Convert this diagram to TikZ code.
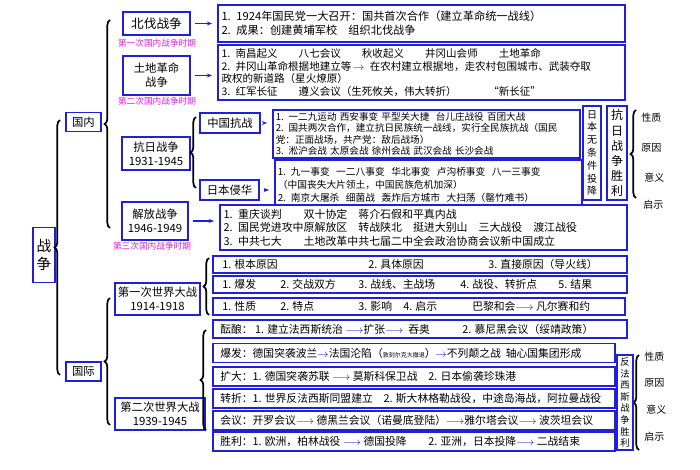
\documentclass[tikz,border=0pt]{standalone}
\usepackage{fontspec}
\setmainfont{Noto Sans CJK SC}
\usetikzlibrary{decorations.pathreplacing,arrows.meta}
\definecolor{bc}{HTML}{2020D8}
\definecolor{pk}{HTML}{E020E0}
\newcommand\blarr{\textcolor{bc}{$\rightarrow$}}
\newcommand\bllarr{\textcolor{bc}{$\longrightarrow$}}
\newcommand\fz[2]{\fontsize{#1pt}{#2pt}\selectfont}
\tikzset{
  tbox/.style={draw=bc,line width=1.1pt,fill=white,align=center,inner sep=1pt,font=\fz{8.5}{10.5}},
  cbox/.style={draw=bc,line width=1.1pt,fill=white,align=left,inner sep=2pt,font=\fz{8.2}{10.2}},
  rbox/.style={draw=bc,line width=1.1pt,fill=white,inner sep=0pt},
  vbox/.style={draw=bc,line width=1.1pt,fill=white,align=center,inner sep=0pt,font=\fz{7.5}{9.6}},
  rt/.style={anchor=west,inner sep=0pt,font=\fz{8.1}{9.8}},
  pkl/.style={text=pk,font=\fz{6.5}{8},inner sep=0pt},
  brc/.style={decorate,decoration={brace,amplitude=4pt},line width=1.3pt},
  arr/.style={-{Stealth[length=4pt]},bc,line width=0.9pt,shorten >=4pt,shorten <=3pt},
  lab/.style={font=\fz{7.5}{9},inner sep=0pt,anchor=west}
}
\begin{document}
\begin{tikzpicture}[x=0.75pt,y=-0.75pt]
\useasboundingbox[fill=white] (0,0) rectangle (700,470);
% main titles
\node[tbox,minimum width=16.5pt,minimum height=41pt,font=\fz{11}{14}] (zz) at (44,255) {战\\争};
\node[tbox,minimum width=26pt,minimum height=14pt] (gn) at (83.5,122) {国内};
\node[tbox,minimum width=26pt,minimum height=14pt] (gj) at (83.5,371.5) {国际};
\node[tbox,minimum width=50pt,minimum height=17pt,font=\fz{9.5}{11}] (bf) at (156.5,23.5) {北伐战争};
\node[tbox,minimum width=50pt,minimum height=29pt] (td) at (156.5,75.5) {土地革命\\战争};
\node[tbox,minimum width=51pt,minimum height=25pt] (kr) at (156,153.5) {抗日战争\\1931-1945};
\node[tbox,minimum width=45pt,minimum height=15pt] (zg) at (230,123) {中国抗战};
\node[tbox,minimum width=44pt,minimum height=15pt] (rb) at (229.5,190) {日本侵华};
\node[tbox,minimum width=49.5pt,minimum height=28.5pt] (jf) at (155,221) {解放战争\\1946-1949};
\node[tbox,minimum width=64pt,minimum height=24pt] (w1) at (157.5,299) {第一次世界大战\\1914-1918};
\node[tbox,minimum width=67.5pt,minimum height=24pt] (w2) at (160,414) {第二次世界大战\\1939-1945};
\node[pkl] (p1) at (157,43) {第一次国内战争时期};
\node[pkl] (p2) at (157,101) {第二次国内战争时期};
\node[pkl] (p3) at (152,246) {第三次国内战争时期};
% braces
\draw[brc] (60,375) -- (60,120);
\draw[brc] (110,228) -- (110,20);
\draw[brc] (110,425) -- (110,298);
\draw[brc] (196,188) -- (196,117);
\draw[brc] (209,315) -- (209,258);
\draw[brc] (206,430) -- (206,330);
\draw[brc] (636,198) -- (636,110);
\draw[brc] (639,450) -- (639,355);
% content boxes
\node[cbox,minimum width=305pt,minimum height=27.75pt,text width=300pt,font=\fz{8.4}{10.5}] (b1) at (421.5,23.5)
 {1. 1924年国民党一大召开：国共首次合作（建立革命统一战线）\\2. 成果：创建黄埔军校\quad 组织北伐战争};
\node[cbox,minimum width=305pt,minimum height=41pt,text width=300pt,font=\fz{7.9}{9.6}] (b2) at (421.5,72.5)
 {1. 南昌起义\qquad 八七会议\qquad 秋收起义\qquad 井冈山会师\qquad 土地革命\\
  2. 井冈山革命根据地建立等\,\blarr\, 在农村建立根据地，走农村包围城市、武装夺取\\
  政权的新道路（星火燎原）\\
  3. 红军长征\qquad 遵义会议（生死攸关，伟大转折）\qquad\quad “新长征”};
\node[cbox,minimum width=230pt,minimum height=36pt,text width=226pt,font=\fz{7.2}{8.5},inner sep=1.5pt] (b3) at (426.5,134)
 {1. 一二九运动\ 西安事变\ 平型关大捷\ \ 台儿庄战役\ 百团大战\\
  2. 国共两次合作，建立抗日民族统一战线，实行全民族抗战（国民\\
  党：正面战场，共产党：敌后战场）\\
  3. 淞沪会战\ 太原会战\ 徐州会战\ 武汉会战\ 长沙会战};
\node[cbox,minimum width=230pt,minimum height=37.5pt,text width=226pt,font=\fz{7.3}{9.5},inner sep=1.5pt] (b4) at (428.5,185)
 {1. 九一事变\ \ 一二八事变\ \ 华北事变\ \ 卢沟桥事变\ \ 八一三事变\\
  （中国丧失大片领土，中国民族危机加深）\\
  2. 南京大屠杀\ \ 细菌战\ \ 轰炸后方城市\ \ 大扫荡（罄竹难书）};
\node[cbox,minimum width=305pt,minimum height=34pt,text width=300pt] (b5) at (423.5,227.5)
 {1. 重庆谈判\qquad 双十协定\quad 蒋介石假和平真内战\\
  2. 国民党进攻中原解放区\quad 转战陕北\quad 挺进大别山\quad 三大战役\quad 渡江战役\\
  3. 中共七大\qquad 土地改革中共七届二中全会政治协商会议新中国成立};
% vertical boxes
\node[vbox,minimum width=13.5pt,minimum height=70.5pt] (wt) at (592,153) {日\\本\\无\\条\\件\\投\\降};
\node[vbox,minimum width=15pt,minimum height=70.5pt,font=\fz{9}{11.3}] (kl) at (617,153) {抗\\日\\战\\争\\胜\\利};
\node[vbox,minimum width=12pt,minimum height=71pt,font=\fz{7}{8.7}] (ff) at (625,402.5) {反\\法\\西\\斯\\战\\争\\胜\\利};
\node[lab] at (641,118) {性质};
\node[lab] at (641,148) {原因};
\node[lab] at (644,178) {意义};
\node[lab] at (643,205) {启示};
\node[lab] at (644,357) {性质};
\node[lab] at (644,383) {原因};
\node[lab] at (646,410) {意义};
\node[lab] at (644,437) {启示};
% WWI rows
\node[rbox,minimum width=310.5pt,minimum height=12.75pt] (r1) at (420,264.5) {};
\node[rt] at (222,264.5) {1. 根本原因};
\node[rt] at (368,264.5) {2. 具体原因};
\node[rt] at (488,264.5) {3. 直接原因（导火线）};
\node[rbox,minimum width=310.5pt,minimum height=12.75pt] (r2) at (420,284.5) {};
\node[rt] at (222,284.5) {1. 爆发};
\node[rt] at (280,284.5) {2. 交战双方};
\node[rt] at (358,284.5) {3. 战线、主战场};
\node[rt] at (460,284.5) {4. 战役、转折点};
\node[rt] at (558,284.5) {5. 结果};
\node[rbox,minimum width=309pt,minimum height=12.75pt] (r3) at (419,306.5) {};
\node[rt] at (222,306.5) {1. 性质};
\node[rt] at (280,306.5) {2. 特点};
\node[rt] at (358,306.5) {3. 影响};
\node[rt] at (403,306.5) {4. 启示};
\node[rt] at (472,306.5) {巴黎和会\bllarr\ 凡尔赛和约};
% WWII rows
\node[rbox,minimum width=310.5pt,minimum height=13.5pt] (r4) at (420,329) {};
\node[rt] at (220,329) {酝酿：\ 1. 建立法西斯统治\ \bllarr 扩张\bllarr\ \ 吞奥\qquad\quad 2. 慕尼黑会议（绥靖政策）};
\node[rbox,minimum width=301.5pt,minimum height=14.25pt] (r5) at (414,353) {};
\node[rt] at (220,353) {爆发：德国突袭波兰\blarr 法国沦陷（{\fz{4.5}{5}敦刻尔克大撤退}）\blarr 不列颠之战\ \ 轴心国集团形成};
\node[rbox,minimum width=301.5pt,minimum height=14.25pt] (r6) at (414,376.5) {};
\node[rt] at (220,376.5) {扩大：1. 德国突袭苏联\ \bllarr\ 莫斯科保卫战\quad 2. 日本偷袭珍珠港};
\node[rbox,minimum width=301.5pt,minimum height=14.25pt] (r7) at (414,398.5) {};
\node[rt] at (220,398.5) {转折：1. 世界反法西斯同盟建立\quad 2. 斯大林格勒战役，中途岛海战，阿拉曼战役};
\node[rbox,minimum width=301.5pt,minimum height=14.25pt] (r8) at (414,420.5) {};
\node[rt] at (220,420.5) {会议：开罗会议\bllarr\ 德黑兰会议（诺曼底登陆）\bllarr 雅尔塔会议\bllarr\ 波茨坦会议};
\node[rbox,minimum width=301.5pt,minimum height=14.25pt] (r9) at (414,441.5) {};
\node[rt] at (220,441.5) {胜利：1. 欧洲，柏林战役\ \bllarr\ 德国投降\qquad 2. 亚洲，日本投降\bllarr\ 二战结束};
% arrows
\draw[arr] (bf.east) -- (bf.east -| b1.west);
\draw[arr] (td.east) -- (td.east -| b2.west);
\draw[arr] (zg.east) -- (zg.east -| b3.west);
\draw[arr] (rb.east) -- (rb.east -| b4.west);
\draw[arr] (jf.east) -- (jf.east -| b5.west);
\end{tikzpicture}
\end{document}
